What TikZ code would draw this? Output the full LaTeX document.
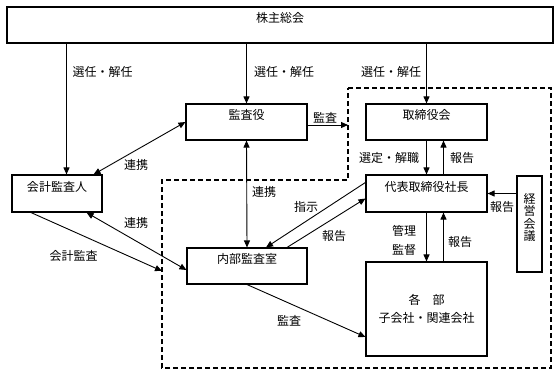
\documentclass[tikz,border=0pt]{standalone}
\usepackage{fontspec}
\setmainfont{Noto Sans CJK JP}
\usetikzlibrary{arrows.meta}

\begin{document}
\begin{tikzpicture}[x=1pt, y=-1pt,
  font=\fontsize{12}{12.2}\selectfont,
  box/.style={draw, line width=1.1pt, inner sep=0pt, text height=10pt, text depth=15pt},
  arr/.style={line width=0.9pt, -{Triangle[length=7pt,width=6pt]}},
  twoway/.style={line width=0.9pt, {Triangle[length=7pt,width=6pt]}-{Triangle[length=7pt,width=6pt]}}]
  \useasboundingbox (0,0) rectangle (559,375);

  % Dashed region
  \draw[line width=1.1pt, dash pattern=on 5pt off 3pt] (348,88) -- (551,88) -- (551,368) -- (162,368) -- (162,180) -- (348,180) -- cycle;

  % Boxes
  \node[box, minimum width=546pt, minimum height=36pt] (soukai) at (280,25) {株主総会};
  \node[box, minimum width=121pt, minimum height=36pt] (kansayaku) at (246.5,122) {監査役};
  \node[box, minimum width=121pt, minimum height=36pt] (torishimari) at (426.5,122) {取締役会};
  \node[box, minimum width=90pt, minimum height=37pt] (kaikei) at (57,193.5) {会計監査人};
  \node[box, minimum width=121pt, minimum height=37pt] (shacho) at (426.5,193.5) {代表取締役社長};
  \node[box, minimum width=120pt, minimum height=36pt] (naibu) at (247,266) {内部監査室};
  \node[draw, line width=1.1pt, minimum width=121pt, minimum height=94pt, align=center] (kakubu) at (426.5,309) {各　部\\[5pt]子会社・関連会社};
  \node[draw, line width=1.1pt, minimum width=25pt, minimum height=96pt] (keiei) at (529.5,224) {};
  \node[align=center, inner sep=0pt] (keieitext) at (529.5,217.5) {経\\営\\会\\議};

  % Free ends on the dashed line
  \coordinate (kansaend) at (348,125);
  \coordinate (kaikeiend) at (162,271);
  \coordinate (kaikeistart) at ([xshift=9.5pt]kaikei.north);

  % From the shareholders' meeting
  \draw[arr] (soukai.south -| kaikeistart) -- (kaikeistart);
  \draw[arr] (soukai.south -| kansayaku.north) -- (kansayaku.north);
  \draw[arr] (soukai.south -| torishimari.north) -- (torishimari.north);
  \node (sennin1) at (102.5,72) {選任・解任};
  \node (sennin2) at (284,72) {選任・解任};
  \node (sennin3) at (391,72) {選任・解任};

  % Auditors
  \draw[arr] (kansayaku.east |- kansaend) -- (kansaend);
  \node (kansa1) at (325,118) {監査};
  \draw[twoway] ([xshift=-9pt]kaikei.north east) -- (kansayaku.west);
  \node (renkei1) at (136,165) {連携};
  \draw[twoway] ([xshift=-16pt]kaikei.south east) -- ([yshift=-4pt]naibu.west);
  \node (renkei2) at (136,223) {連携};
  \draw[arr] ([xshift=-26pt]kaikei.south) -- (kaikeiend);
  \node (kaikeikansa) at (73.5,256) {会計監査};
  \draw[twoway] (kansayaku.south) -- (naibu.north);
  \node (renkei3) at (264,192) {連携};

  % Internal audit
  \draw[arr] (naibu.south) -- ([yshift=-28pt]kakubu.west);
  \node (kansa2) at (289,321) {監査};
  \draw[arr] ([yshift=-8pt]shacho.north west) -- ([xshift=19pt]naibu.north);
  \node (shiji) at (306,207) {指示};
  \draw[arr] ([xshift=40pt]naibu.north) -- ([yshift=-5pt]shacho.west);
  \node (houkoku1) at (334,236) {報告};

  % Board and president
  \draw[arr] (torishimari.south) -- (shacho.north);
  \draw[arr] ([xshift=17pt]shacho.north) -- ([xshift=17pt]torishimari.south);
  \node (sentei) at (389,158) {選定・解職};
  \node (houkoku2) at (462,158) {報告};
  \draw[arr] (shacho.south) -- (kakubu.north);
  \draw[arr] ([xshift=17pt]kakubu.north) -- ([xshift=17pt]shacho.south);
  \node[align=center] (kanri) at (404,240.5) {管理\\[7pt]監督};
  \node (houkoku3) at (460,242) {報告};
  \draw[arr] (keiei.west |- shacho.east) -- (shacho.east);
  \node (houkoku4) at (502,207) {報告};
\end{tikzpicture}
\end{document}
